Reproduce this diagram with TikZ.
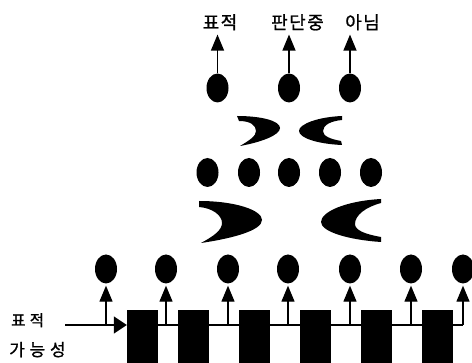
\documentclass[tikz,border=0pt]{standalone}
\usepackage{fontspec}
\usepackage{tikz}
\usetikzlibrary{positioning,arrows.meta,shapes.geometric}
\newfontfamily\krtop[LetterSpace=8,FakeBold=1]{Noto Sans CJK KR}
\newfontfamily\krside[LetterSpace=28,FakeBold=1]{Noto Sans CJK KR}
\definecolor{ink}{HTML}{000000}

\begin{document}
\begin{tikzpicture}[
  x=1pt, y=-1pt,
  unit/.style={ellipse, fill=ink, inner sep=0pt, minimum width=22pt, minimum height=29pt},
  blk/.style={fill=ink, inner sep=0pt, minimum width=31pt, minimum height=60pt, anchor=north},
  lab/.style={inner sep=0pt, anchor=base, text=ink},
  bus/.style={draw=ink, line width=1.3pt},
  arr/.style={bus, -{Triangle[length=16pt, width=13pt]}}]
\useasboundingbox (0,0) rectangle (472,363);
% outputs, top
\node[lab, font=\krtop\fontsize{18pt}{18pt}\selectfont] (otgt) at (220,29)   {표적};
\node[lab, font=\krtop\fontsize{18pt}{18pt}\selectfont] (ojdg) at (297.5,29) {판단중};
\node[lab, font=\krtop\fontsize{18pt}{18pt}\selectfont] (onot) at (362.5,29) {아님};
\node[unit] (t1) at (217.5,88) {};
\node[unit] (t2) at (289,88)   {};
\node[unit] (t3) at (350,88)   {};
% middle row
\node[unit] (m1) at (207.5,172.5) {};
\node[unit] (m2) at (249,172.5)   {};
\node[unit] (m3) at (289,172.5)   {};
\node[unit] (m4) at (330,172.5)   {};
\node[unit] (m5) at (371,172.5)   {};
% bottom row
\node[unit] (b1) at (106,269) {};
\node[unit] (b2) at (166,269) {};
\node[unit] (b3) at (228,269) {};
\node[unit] (b4) at (288,269) {};
\node[unit] (b5) at (350,269) {};
\node[unit] (b6) at (411,269) {};
\node[unit] (b7) at (463,269) {};
% blocks on the input line
\node[blk] (r1) at (142.5,310) {};
\node[blk] (r2) at (193,310)   {};
\node[blk] (r3) at (254,310)   {};
\node[blk] (r4) at (315.5,310) {};
\node[blk] (r5) at (376.5,310) {};
\node[blk] (r6) at (437.5,310) {};
% input
\node[lab, font=\krside\fontsize{15.5pt}{15.5pt}\selectfont, anchor=base west] (itgt) at (11,326) {표적};
\node[lab, font=\krside\fontsize{17pt}{17pt}\selectfont, anchor=base west] (ipos) at (9,356) {가능성};
\coordinate (src) at (65,325);
% crescents, upper pair
\fill[ink] (237,116) .. controls (262,116) and (280,121) .. (280,128)
  .. controls (280,135) and (262,142) .. (240,146)
  .. controls (250,140) and (256,136) .. (256,131)
  .. controls (256,125) and (250,121) .. (239,121) -- cycle;
\fill[ink] (342,116) .. controls (318,117) and (299,124) .. (299,131)
  .. controls (299,138) and (318,144) .. (342,145) -- (341,141)
  .. controls (330,139) and (323,136) .. (323,131)
  .. controls (323,125) and (331,121) .. (342,120) -- cycle;
% crescents, lower pair
\fill[ink] (199,201) .. controls (235,201) and (262,210) .. (262,220)
  .. controls (262,230) and (235,238) .. (201,243)
  .. controls (214,236) and (222,230) .. (222,223)
  .. controls (222,215) and (212,208) .. (199,207) -- cycle;
\fill[ink] (381,199) .. controls (345,201) and (321,212) .. (321,222)
  .. controls (321,232) and (350,240) .. (381,242) -- (381,237)
  .. controls (364,234) and (355,230) .. (355,224)
  .. controls (355,215) and (366,207) .. (381,203) -- cycle;
% arrows
\draw[arr, shorten >=4pt] (t1.north) -- (t1 |- otgt.south);
\draw[arr, shorten >=4pt] (t2.north) -- (t2 |- ojdg.south);
\draw[arr, shorten >=4pt] (t3.north) -- (t3 |- onot.south);
\draw[bus, -{Triangle[length=13pt, width=17pt]}] (src) -- (src -| r1.west);
\draw[bus] (src -| r1.west) -- (src -| b7);
\draw[arr, shorten >=2pt] (src -| b1) -- (b1);
\draw[arr, shorten >=2pt] (src -| b2) -- (b2);
\draw[arr, shorten >=2pt] (src -| b3) -- (b3);
\draw[arr, shorten >=2pt] (src -| b4) -- (b4);
\draw[arr, shorten >=2pt] (src -| b5) -- (b5);
\draw[arr, shorten >=2pt] (src -| b6) -- (b6);
\draw[arr, shorten >=2pt] (src -| b7) -- (b7);
\end{tikzpicture}
\end{document}
